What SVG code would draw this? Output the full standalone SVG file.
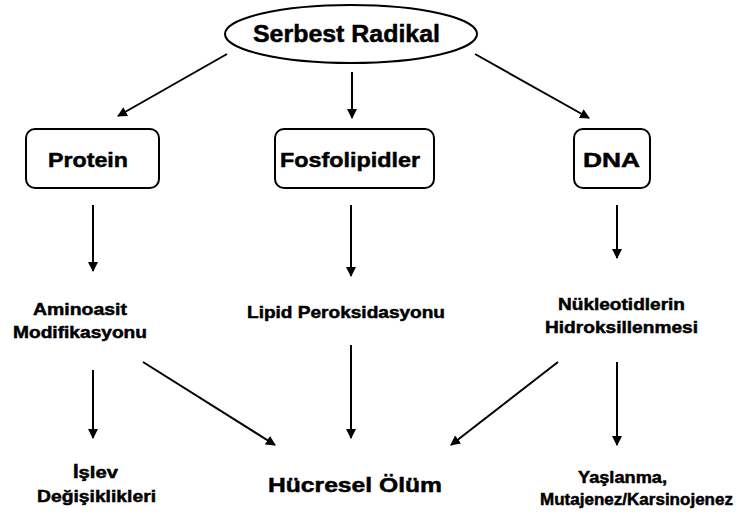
<svg xmlns="http://www.w3.org/2000/svg" width="740" height="515" viewBox="0 0 740 515">
<defs>
<marker id="ah" viewBox="0 0 10 10" refX="9" refY="5" markerWidth="5" markerHeight="5" orient="auto" markerUnits="strokeWidth">
<path d="M0,0 L10,5 L0,10 z" fill="#000"/>
</marker>
<style>
.t{font-family:"Liberation Sans",Arial,sans-serif;font-weight:bold;fill:#000;stroke:#000;stroke-width:0.5;text-anchor:middle}
.box{fill:#fff;stroke:#000;stroke-width:2}
.c line{stroke:#000;stroke-width:2;marker-end:url(#ah)}
</style>
</defs>
<rect width="740" height="515" fill="#fff"/>
<g id="serbest">
<ellipse class="box" cx="351" cy="34" rx="126" ry="29"/>
<text class="t" x="346.5" y="42" font-size="24" textLength="187" lengthAdjust="spacingAndGlyphs">Serbest Radikal</text>
</g>
<g id="protein">
<rect class="box" x="26" y="129" width="133" height="59" rx="9"/>
<text class="t" x="88" y="166.5" font-size="21" textLength="80" lengthAdjust="spacingAndGlyphs">Protein</text>
</g>
<g id="fosfolipidler">
<rect class="box" x="275" y="129" width="159" height="59" rx="9"/>
<text class="t" x="350" y="166.5" font-size="21" textLength="140" lengthAdjust="spacingAndGlyphs">Fosfolipidler</text>
</g>
<g id="dna">
<rect class="box" x="574" y="129" width="76" height="59" rx="9"/>
<text class="t" x="611.5" y="166.5" font-size="21" textLength="57" lengthAdjust="spacingAndGlyphs">DNA</text>
</g>
<g id="aminoasit">
<text class="t" x="80" y="315" font-size="17" textLength="94" lengthAdjust="spacingAndGlyphs">Aminoasit</text>
<text class="t" x="80" y="338" font-size="17" textLength="134" lengthAdjust="spacingAndGlyphs">Modifikasyonu</text>
</g>
<g id="lipid">
<text class="t" x="346" y="318" font-size="17" textLength="198" lengthAdjust="spacingAndGlyphs">Lipid Peroksidasyonu</text>
</g>
<g id="nukleotid">
<text class="t" x="621.5" y="310" font-size="17" textLength="127" lengthAdjust="spacingAndGlyphs">Nükleotidlerin</text>
<text class="t" x="621.5" y="333" font-size="17" textLength="153" lengthAdjust="spacingAndGlyphs">Hidroksillenmesi</text>
</g>
<g id="islev">
<text class="t" x="95.5" y="478" font-size="17" textLength="45" lengthAdjust="spacingAndGlyphs">İşlev</text>
<text class="t" x="96.5" y="502" font-size="17" textLength="119" lengthAdjust="spacingAndGlyphs">Değişiklikleri</text>
</g>
<g id="hucresel">
<text class="t" x="355" y="491.5" font-size="21" textLength="174" lengthAdjust="spacingAndGlyphs">Hücresel Ölüm</text>
</g>
<g id="yaslanma">
<text class="t" x="622.5" y="483" font-size="17" textLength="89" lengthAdjust="spacingAndGlyphs">Yaşlanma,</text>
<text class="t" x="636.5" y="505" font-size="17" textLength="193" lengthAdjust="spacingAndGlyphs">Mutajenez/Karsinojenez</text>
</g>
<g class="c" id="connectors">
<line x1="227" y1="54" x2="118" y2="116"/>
<line x1="352" y1="72" x2="352" y2="118"/>
<line x1="475" y1="54" x2="589" y2="118"/>
<line x1="93" y1="205" x2="93" y2="271"/>
<line x1="351" y1="205" x2="351" y2="276"/>
<line x1="617" y1="205" x2="617" y2="258"/>
<line x1="93" y1="370" x2="93" y2="438"/>
<line x1="143" y1="362" x2="275" y2="445"/>
<line x1="351" y1="345" x2="351" y2="438"/>
<line x1="558" y1="362" x2="451" y2="445"/>
<line x1="617" y1="362" x2="617" y2="445"/>
</g>
</svg>
